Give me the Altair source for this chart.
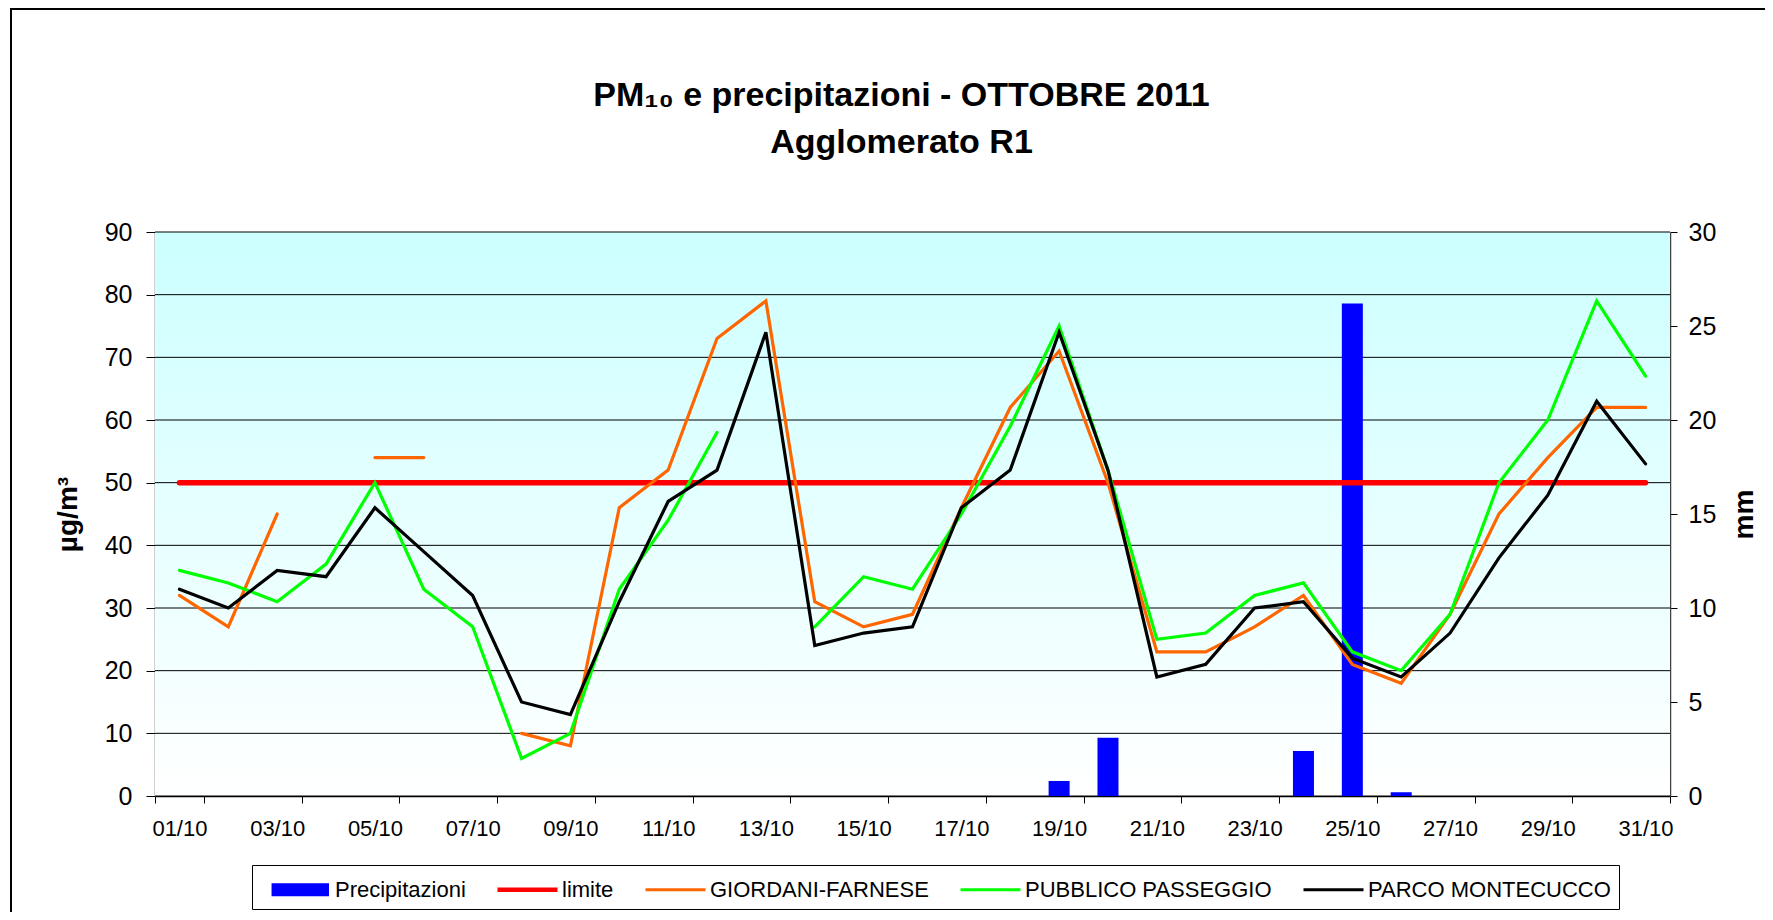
import altair as alt
import pandas as pd

FONT = "Liberation Sans"

days = ["01/10", "02/10", "03/10", "04/10", "05/10", "06/10", "07/10", "08/10",
        "09/10", "10/10", "11/10", "12/10", "13/10", "14/10", "15/10", "16/10",
        "17/10", "18/10", "19/10", "20/10", "21/10", "22/10", "23/10", "24/10",
        "25/10", "26/10", "27/10", "28/10", "29/10", "30/10", "31/10"]

x_label_days = ["01/10", "03/10", "05/10", "07/10", "09/10", "11/10", "13/10", "15/10",
                "17/10", "19/10", "21/10", "23/10", "25/10", "27/10", "29/10", "31/10"]

giordani = [32, 27, 45, None, 54, 54, None, 10, 8, 46, 52, 73, 79, 31, 27, 29,
            46, 62, 71, 50, 23, 23, 27, 32, 21, 18, 29, 45, 54, 62, 62]
pubblico = [36, 34, 31, 37, 50, 33, 27, 6, 10, 33, 44, 58, None, 27, 35, 33,
            45, 59, 75, 52, 25, 26, 32, 34, 23, 20, 29, 50, 60, 79, 67]
parco = [33, 30, 36, 35, 46, 39, 32, 15, 13, 31, 47, 52, 74, 24, 26, 27,
         46, 52, 74, 52, 19, 21, 30, 31, 22, 19, 26, 38, 48, 63, 53]
limite = [50, 50, 50, 50, 50, 50, 50, 50, 50, 50, 50, 50, 50, 50, 50, 50,
          50, 50, 50, 50, 50, 50, 50, 50, 50, 50, 50, 50, 50, 50, 50]
precip = [0, 0, 0, 0, 0, 0, 0, 0, 0, 0, 0, 0, 0, 0, 0, 0,
          0, 0, 0.8, 3.1, 0, 0, 0, 2.4, 26.2, 0.2, 0, 0, 0, 0, 0]

y_left_ticks = [0, 10, 20, 30, 40, 50, 60, 70, 80, 90]
y_right_ticks = [0, 5, 10, 15, 20, 25, 30]

series_names = ["Precipitazioni", "limite", "GIORDANI-FARNESE",
                "PUBBLICO PASSEGGIO", "PARCO MONTECUCCO"]
series_colors = ["#0000FF", "#FF0000", "#FF6600", "#00FF00", "#000000"]

color_scale = alt.Scale(domain=series_names, range=series_colors)

# legend symbol shapes (unit = 15 px with symbolSize 900)
BAR_PATH = "".join(f"M-0.33,{y}H3.5" for y in
                   ["-0.33", "-0.22", "-0.11", "0", "0.11", "0.22", "0.33"])
LIM_PATH = "M-0.4,-0.05H3.6M-0.4,0.05H3.6"
LINE_PATH = "M-0.4,0H3.6"

legend = alt.Legend(
    title=None, orient="none", legendX=97, legendY=633, direction="horizontal",
    columns=5, symbolSize=900,
    symbolType={"expr": f"datum.value === 'Precipitazioni' ? '{BAR_PATH}' : "
                        f"(datum.value === 'limite' ? '{LIM_PATH}' : '{LINE_PATH}')"},
    symbolStrokeWidth=3, labelFontSize=22,
    labelFont=FONT, labelColor="black", labelOffset=42, columnPadding=21,
    padding=8, strokeColor="black", fillColor="white", labelLimit=500,
)

x_enc = alt.X(
    "day:O",
    scale=alt.Scale(domain=days, type="band", paddingInner=0, paddingOuter=0),
    axis=alt.Axis(values=x_label_days, tickBand="extent", title=None, labelAngle=0,
                  labelFontSize=22, labelFont=FONT, labelColor="black",
                  tickColor="black", tickSize=7, domainColor="black",
                  domainWidth=1.5, labelPadding=15, grid=False, labelOverlap=False),
)

y_left = alt.Y(
    "value:Q",
    scale=alt.Scale(domain=[0, 90], nice=False, zero=True),
    axis=alt.Axis(orient="left", values=y_left_ticks, title="µg/m³",
                  titleFontSize=28, titleFontWeight="bold", titleFont=FONT,
                  titleColor="black", titlePadding=22, labelFontSize=25,
                  labelFont=FONT, labelColor="black", tickColor="black",
                  tickSize=9, labelPadding=14, domainColor="#404040",
                  domainWidth=1.5, grid=False),
)

y_right = alt.Y(
    "mm:Q",
    scale=alt.Scale(domain=[0, 30], nice=False, zero=True),
    axis=alt.Axis(orient="right", values=y_right_ticks, title="mm", titleAngle=270,
                  titleBaseline="top", titleFontSize=28, titleFontWeight="bold",
                  titleFont=FONT, titleColor="black", titlePadding=15,
                  labelFontSize=25, labelFont=FONT, labelColor="black",
                  tickColor="black", tickSize=7, labelPadding=11,
                  domainColor="#404040", domainWidth=1.5, grid=False),
)

color_enc = alt.Color("serie:N", scale=color_scale, legend=legend)

# background gradient + outer frame + gridlines
bg = alt.Chart(pd.DataFrame({"k": [0]})).mark_rect(
    color=alt.Gradient(gradient="linear", x1=0, x2=0, y1=0, y2=1,
                       stops=[alt.GradientStop(color="#CCFFFF", offset=0),
                              alt.GradientStop(color="#FFFFFF", offset=1)])
).encode(x=alt.value(0), x2=alt.value("width"), y=alt.value(0), y2=alt.value("height"))

frame = alt.Chart(pd.DataFrame({"k": [0]})).mark_rect(
    fill="transparent", stroke="black", strokeWidth=2
).encode(x=alt.value(-144), x2=alt.value(1700), y=alt.value(-223), y2=alt.value(800))

grid = alt.Chart(pd.DataFrame({"g": y_left_ticks})).mark_rule(
    color="black", strokeWidth=1
).encode(y=alt.Y("g:Q", scale=alt.Scale(domain=[0, 90], nice=False), axis=None))

back = alt.layer(bg, frame, grid)

# precipitation bars (colour fixed; legend entry comes from the shared colour scale)
df_p = pd.DataFrame({"day": days, "mm": precip})
bars = alt.Chart(df_p).transform_filter("datum.mm > 0").mark_bar(
    width={"band": 0.43}, color="#0000FF"
).encode(x=x_enc, y=y_right)


def series_df(values, name):
    s = pd.Series(values, dtype="float")
    seg = s.isna().cumsum()
    df = pd.DataFrame({"day": days, "value": s, "serie": name, "seg": seg})
    return df.dropna(subset=["value"])


line_layers = []
for vals, name, sw in [(limite, "limite", 5.5), (giordani, "GIORDANI-FARNESE", 3.2),
                       (pubblico, "PUBBLICO PASSEGGIO", 3.2),
                       (parco, "PARCO MONTECUCCO", 3.2)]:
    line_layers.append(
        alt.Chart(series_df(vals, name)).mark_line(strokeWidth=sw, strokeCap="round").encode(
            x=x_enc, y=y_left, color=color_enc, detail="seg:N")
    )

lines = alt.layer(*line_layers)

chart = alt.layer(back, bars, lines).resolve_scale(y="independent").properties(
    width=1515, height=564,
    padding={"left": 147, "top": 224, "right": 95, "bottom": 116},
    autosize=alt.AutoSizeParams(type="none"),
    background="white",
    title=alt.TitleParams(
        text=["PM₁₀ e precipitazioni - OTTOBRE 2011", "Agglomerato R1"],
        fontSize=34, font=FONT, fontWeight="bold", color="black",
        anchor="middle", frame="group", offset=0, lineHeight=47, dx=-11, dy=152),
).configure_view(strokeWidth=0)

chart.save("out.html", embed_options={"renderer": "svg", "actions": False})
